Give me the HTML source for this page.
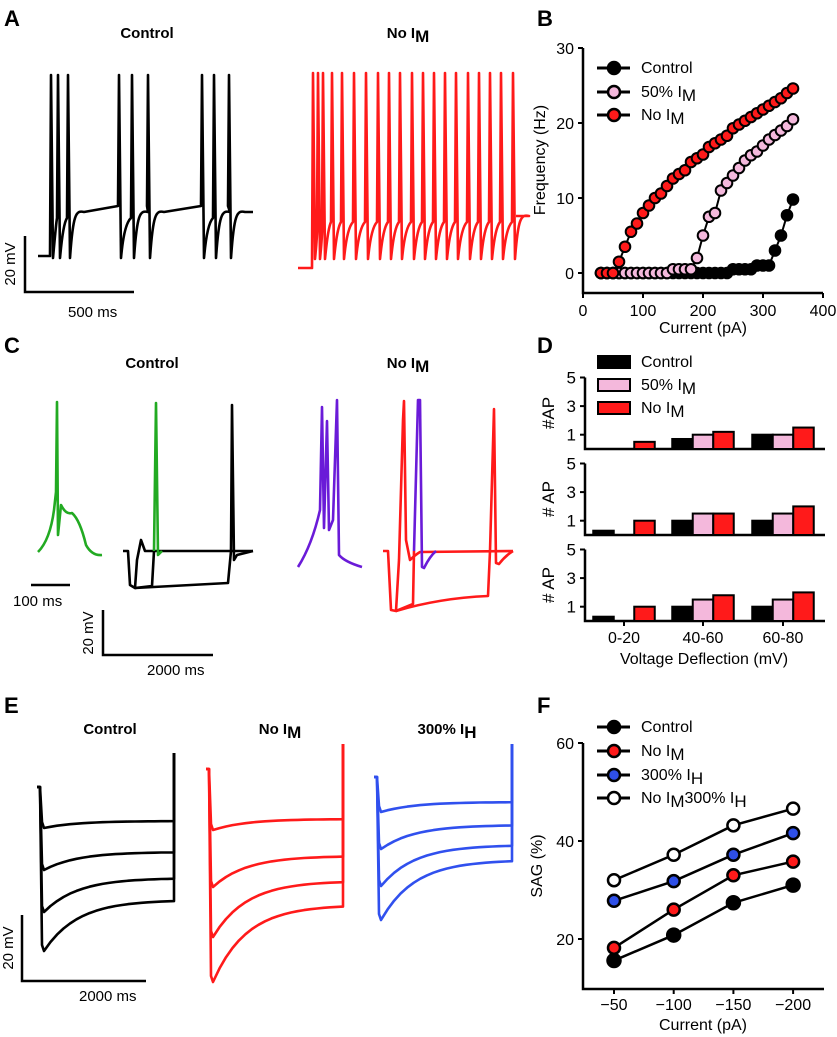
<!DOCTYPE html>
<html><head><meta charset="utf-8"><style>
html,body{margin:0;padding:0;background:#fff}
svg{display:block;font-family:"Liberation Sans",Arial,sans-serif}
</style></head><body>
<svg id="fig" width="837" height="1037" viewBox="0 0 837 1037" xmlns="http://www.w3.org/2000/svg">
<g font-weight="bold" font-size="22" fill="#000">
<text x="4" y="26">A</text>
<text x="537" y="26">B</text>
<text x="4" y="353">C</text>
<text x="537" y="353">D</text>
<text x="4" y="713">E</text>
<text x="537" y="713">F</text>
</g>
<g font-weight="bold" font-size="15" text-anchor="middle">
<text x="147" y="38">Control</text>
<text x="408" y="38">No  I<tspan font-size="17" dy="4">M</tspan></text>
<text x="152" y="368">Control</text>
<text x="408" y="368">No  I<tspan font-size="17" dy="4">M</tspan></text>
<text x="110" y="734">Control</text>
<text x="280" y="734">No  I<tspan font-size="17" dy="4">M</tspan></text>
<text x="447" y="734">300% I<tspan font-size="17" dy="4">H</tspan></text>
</g>
<g id="traces" fill="none" stroke-width="2.6" stroke-linejoin="round"></g>
<g id="scalebars" stroke="#000" stroke-width="2.5" fill="none">
<path d="M25,236V292H134"/>
<path d="M31,585H70"/>
<path d="M103,610V655H213"/>
<path d="M22,915V981H146"/>
</g>
<g font-size="15">
<text transform="translate(15,264) rotate(-90)" text-anchor="middle">20 mV</text>
<text x="68" y="317">500 ms</text>
<text x="13" y="606">100 ms</text>
<text transform="translate(93,633) rotate(-90)" text-anchor="middle">20 mV</text>
<text x="147" y="675">2000 ms</text>
<text transform="translate(13,948) rotate(-90)" text-anchor="middle">20 mV</text>
<text x="79" y="1001">2000 ms</text>
</g>
<g id="chartB"></g><g id="chartD"></g><g id="chartF"></g>
</svg>
<script>
// ---- Panel B data (f-I curves) ----
const bCurrents = [30,40,50,60,70,80,90,100,110,120,130,140,150,160,170,180,190,200,210,220,230,240,250,260,270,280,290,300,310,320,330,340,350];
const bControl = [0,0,0,0,0,0,0,0,0,0,0,0,0,0,0,0,0,0,0,0,0,0,0.5,0.5,0.5,0.5,1,1,1,3,5,7.7,9.8];
const b50IM    = [0,0,0,0,0,0,0,0,0,0,0,0,0.5,0.5,0.5,0.5,2,5,7.5,8,11,12,13,14,15,15.7,16.2,17,17.8,18.4,19,19.6,20.5];
const bNoIM    = [0,0,0,1.5,3.5,5.5,6.6,8,9,10,10.6,11.6,12.6,13.2,13.7,14.8,15.3,15.8,16.8,17.3,17.8,18.3,19.3,19.8,20.3,20.8,21.3,21.8,22.3,22.8,23.3,24,24.6];
const bXTicks = [0,100,200,300,400];
const bYTicks = [0,10,20,30];
// ---- Panel D data (#AP bars) ----
const dGroups = ["0-20","40-60","60-80"];
const dTopControl=[0,0.7,1], dTop50=[0,1,1], dTopNo=[0.5,1.2,1.5];
const dMidControl=[0.3,1,1], dMid50=[0,1.5,1.5], dMidNo=[1,1.5,2];
const dBotControl=[0.3,1,1], dBot50=[0,1.5,1.5], dBotNo=[1,1.8,2];
const dYTicks=[1,3,5];
// ---- Panel F data (SAG) ----
const fCurrents=["\u221250","\u2212100","\u2212150","\u2212200"];
const fControl=[15.6,20.8,27.4,31];
const fNoIM=[18.2,26,33,35.8];
const f300IH=[27.8,31.8,37.2,41.6];
const fNoIM300IH=[32,37.2,43.2,46.6];
const fYTicks=[20,40,60];

const NS="http://www.w3.org/2000/svg";
function mk(tag,attrs,parent){const e=document.createElementNS(NS,tag);for(const k in attrs)e.setAttribute(k,attrs[k]);parent.appendChild(e);return e;}
function txt(s,attrs,parent){const e=mk('text',attrs,parent);e.textContent=s;return e;}

// ---------- traces ----------
const T=document.getElementById('traces');
function trace(d,color,name){const p=mk('path',{d:d,stroke:color},T);

}
function spikeTrain(x0,base,times,peak,trough,plateau,tail){
  let d=`M${x0},${base}L${times[0]-1},${base}`;
  for(let i=0;i<times.length;i++){const t=times[i];
    d+=`L${t},${peak}L${t+2},${trough}`;
    const nx=i<times.length-1?times[i+1]:null;
    if(nx&&nx-t<15){d+=`Q${t+5},${plateau+10} ${nx-1},${plateau+4}`;}
    else if(nx){d+=`C${t+5},${plateau} ${t+8},${plateau-4} ${t+16},${plateau-2}L${nx-1},${plateau-8}`;}
    else{d+=`C${t+5},${plateau} ${t+8},${plateau-4} ${t+16},${plateau-2}L${t+tail},${plateau-2}`;}
  }
  return d;}
trace(spikeTrain(38,256,[51,58,68,119,132,148,202,214,229],75,258,214,24),'#000','trace-a-control');
trace(spikeTrain(298,268,[313,318,323,332,342,354,366,378,389,400,412,423,434,445,456,468,479,490,501,513],73,259,218,3),'#ff1a1a','trace-a-no-im');
// C
trace('M38,552Q50,540 54,510L56,492L57,402L58,535L61,505Q66,515 72,513Q80,520 86,545Q92,556 102,555','#22aa22','trace-c-green-1');
trace('M123,551L128,551L130,585L135,588L137,560L141,540L145,551L253,551','#000','trace-c-black-1');
trace('M135,588L152,586L154,551','#000','trace-c-black-2');
trace('M135,588L228,583L231,551L232,405L234,560L237,555L253,551','#000','trace-c-black-3');
trace('M154,551L156,403L158,555L162,551','#22aa22','trace-c-green-2');
trace('M298,567Q312,545 320,510L322,407L324,528L327,421L329,530L333,520L337,400L339,555Q345,562 362,567','#6a1bd8','trace-c-purple-1');
trace('M383,551L388,551L391,610L396,611L399,560L403,420L404,401L406,540L410,560Q415,555 420,552L513,551','#ff1a1a','trace-c-red-1');
trace('M396,611L413,604L414,551','#ff1a1a','trace-c-red-2');
trace('M396,611Q440,598 488,596L490,551L494,409L496,563L499,564Q505,556 513,551','#ff1a1a','trace-c-red-3');
trace('M414,551L418,400L420,400L422,567L424,568Q430,556 436,551','#6a1bd8','trace-c-purple-2');
// E
function stepTrace(x0,yStart,x1,trough,end,xr,ytop,final){
  let d=`M${x0-3},${yStart}L${x0},${yStart}L${x0+2},${trough-6}L${x0+4},${trough}`;
  for(let i=1;i<=20;i++){const x=x0+4+(x1-x0-4)*i/20;const t=(x-x0-4)/(x1-x0);
    const y=end+(trough-end)*Math.exp(-t*4);d+=`L${x.toFixed(1)},${y.toFixed(1)}`;}
  d+=`L${x1},${ytop}`;return d;}
const eSets=[
 {x0:40,ys:787,x1:174,top:753,c:'#000',n:'control',lv:[[828,821],[870,852],[912,878],[951,900]]},
 {x0:209,ys:769,x1:343,top:744,c:'#ff1a1a',n:'no-im',lv:[[830,819],[887,856],[937,881],[982,905]]},
 {x0:377,ys:777,x1:512,top:744,c:'#3050ee',n:'300-ih',lv:[[812,802],[849,825],[886,845],[920,860]]}];
eSets.forEach(s=>s.lv.forEach((l,i)=>trace(stepTrace(s.x0,s.ys,s.x1,l[0],l[1],0,s.top),s.c,`trace-e-${s.n}-${i+1}`)));

// ---------- Panel B ----------
const B=document.getElementById('chartB');
const xB=v=>583+v*0.6, yB=v=>273-v*7.5;
let ax=mk('path',{d:`M583,${yB(30)}V293H${xB(400)}`,stroke:'#000','stroke-width':2.5,fill:'none'},B);


bXTicks.forEach(v=>{mk('line',{x1:xB(v),x2:xB(v),y1:293,y2:298,stroke:'#000','stroke-width':2},B);
 const t=txt(v,{x:xB(v),y:316,'font-size':16,'text-anchor':'middle'},B);
 
 });
bYTicks.forEach(v=>{mk('line',{x1:578,x2:583,y1:yB(v),y2:yB(v),stroke:'#000','stroke-width':2},B);
 const t=txt(v,{x:574,y:yB(v)+6,'font-size':16,'text-anchor':'end'},B);
 
 });
let t1=txt('Current (pA)',{x:703,y:333,'font-size':16,'text-anchor':'middle'},B);


let t2=txt('Frequency (Hz)',{transform:'translate(545,160) rotate(-90)','font-size':16,'text-anchor':'middle'},B);


function bSeries(vals,fill,name){
 const g=mk('g',{},B);
 
 
 mk('path',{d:'M'+vals.map((v,i)=>`${xB(bCurrents[i])},${yB(v)}`).join('L'),stroke:'#000','stroke-width':2,fill:'none'},g);
 vals.forEach((v,i)=>{const c=mk('circle',{cx:xB(bCurrents[i]),cy:yB(v),r:5.3,fill:fill,stroke:'#000','stroke-width':2},g);
  
  });}
bSeries(bControl,'#000','b-series-control');
bSeries(b50IM,'#f4b8dc','b-series-50-im');
bSeries(bNoIM,'#ff1a1a','b-series-no-im');
[['Control','#000',68,''],['50%  I','#f4b8dc',92,'M'],['No  I','#ff1a1a',115,'M']].forEach(l=>{
 const g=mk('g',{},B);
 
 
 mk('line',{x1:597,x2:630,y1:l[2],y2:l[2],stroke:'#000','stroke-width':3},g);
 mk('circle',{cx:614,cy:l[2],r:6,fill:l[1],stroke:'#000','stroke-width':2.5},g);
 const t=txt(l[0],{x:641,y:l[2]+5,'font-size':16},g);
 if(l[3]){const s=mk('tspan',{dy:4,'font-size':17},t);s.textContent=l[3];}});

// ---------- Panel D ----------
const D=document.getElementById('chartD');
const dZero=[449,535,621], dScale=14.3;
const dCenters=[624,703,783];
const dRows=[[dTopControl,dTop50,dTopNo],[dMidControl,dMid50,dMidNo],[dBotControl,dBot50,dBotNo]];
const dFills=['#000','#f4b8dc','#ff1a1a'], dNames=['control','50-im','no-im'];
dRows.forEach((row,r)=>{
 const z=dZero[r], yD=v=>z-v*dScale;
 const a=mk('path',{d:`M585,${yD(5)}V${z}H825`,stroke:'#000','stroke-width':2.5,fill:'none'},D);
 
 
 dYTicks.forEach(v=>{mk('line',{x1:580,x2:585,y1:yD(v),y2:yD(v),stroke:'#000','stroke-width':2},D);
  const t=txt(v,{x:576,y:yD(v)+6,'font-size':17,'text-anchor':'end'},D);
  
  });
 const yl=txt(r==0?'#AP':'# AP',{transform:`translate(554,${z-36}) rotate(-90)`,'font-size':17,'text-anchor':'middle'},D);
 
 
 row.forEach((vals,s)=>vals.forEach((v,g)=>{
  if(v<=0)return;
  const x=dCenters[g]+(s-1)*20.5-10.25;
  const rc=mk('rect',{x:x,y:yD(v),width:20.5,height:z-yD(v),fill:dFills[s],stroke:'#000','stroke-width':2},D);
  
  }));
});
dCenters.forEach((c,i)=>{mk('line',{x1:c,x2:c,y1:621,y2:626,stroke:'#000','stroke-width':2},D);
 const t=txt(dGroups[i],{x:c,y:643,'font-size':16,'text-anchor':'middle'},D);
 
 });
let t3=txt('Voltage Deflection (mV)',{x:704,y:664,'font-size':16,'text-anchor':'middle'},D);


[['Control','#000',362,''],['50%  I','#f4b8dc',385,'M'],['No  I','#ff1a1a',408,'M']].forEach(l=>{
 const g=mk('g',{},D);
 
 
 mk('rect',{x:598,y:l[2]-6,width:32,height:12,fill:l[1],stroke:'#000','stroke-width':2},g);
 const t=txt(l[0],{x:641,y:l[2]+5,'font-size':16},g);
 if(l[3]){const s=mk('tspan',{dy:4,'font-size':17},t);s.textContent=l[3];}});

// ---------- Panel F ----------
const F=document.getElementById('chartF');
const xF=i=>614+i*59.7, yF=v=>939-(v-20)*4.9;
let fa=mk('path',{d:`M583,${yF(60)}V989H824`,stroke:'#000','stroke-width':2.5,fill:'none'},F);


fYTicks.forEach(v=>{mk('line',{x1:578,x2:583,y1:yF(v),y2:yF(v),stroke:'#000','stroke-width':2},F);
 const t=txt(v,{x:574,y:yF(v)+6,'font-size':16,'text-anchor':'end'},F);
 
 });
fCurrents.forEach((c,i)=>{mk('line',{x1:xF(i),x2:xF(i),y1:989,y2:994,stroke:'#000','stroke-width':2},F);
 const t=txt(c,{x:xF(i),y:1010,'font-size':16,'text-anchor':'middle'},F);
 
 });
let t4=txt('Current (pA)',{x:703,y:1030,'font-size':16,'text-anchor':'middle'},F);


let t5=txt('SAG (%)',{transform:'translate(542,866) rotate(-90)','font-size':16,'text-anchor':'middle'},F);


function fSeries(vals,fill,name,r){
 const g=mk('g',{},F);
 
 
 mk('path',{d:'M'+vals.map((v,i)=>`${xF(i)},${yF(v)}`).join('L'),stroke:'#000','stroke-width':2.5,fill:'none'},g);
 vals.forEach((v,i)=>{const c=mk('circle',{cx:xF(i),cy:yF(v),r:r,fill:fill,stroke:'#000','stroke-width':2.5},g);
  
  });}
fSeries(fNoIM300IH,'#fff','f-series-no-im-300-ih',6);
fSeries(f300IH,'#2e4fe8','f-series-300-ih',6);
fSeries(fNoIM,'#ff1a1a','f-series-no-im',6);
fSeries(fControl,'#000','f-series-control',6.5);
[['Control','#000',727,''],['No  I','#ff1a1a',751,'M'],['300% I','#2e4fe8',775,'H'],['No  I','#fff',798,'M','300% I','H']].forEach(l=>{
 const g=mk('g',{},F);
 
 
 mk('line',{x1:597,x2:630,y1:l[2],y2:l[2],stroke:'#000','stroke-width':3},g);
 mk('circle',{cx:614,cy:l[2],r:6,fill:l[1],stroke:'#000','stroke-width':2.5},g);
 const t=txt(l[0],{x:641,y:l[2]+5,'font-size':16},g);
 if(l[3]){const s=mk('tspan',{dy:4,'font-size':17},t);s.textContent=l[3];}
 if(l[4]){const s=mk('tspan',{dy:-4,'font-size':16},t);s.textContent=l[4];const s2=mk('tspan',{dy:4,'font-size':17},t);s2.textContent=l[5];}});
</script>
</body></html>
